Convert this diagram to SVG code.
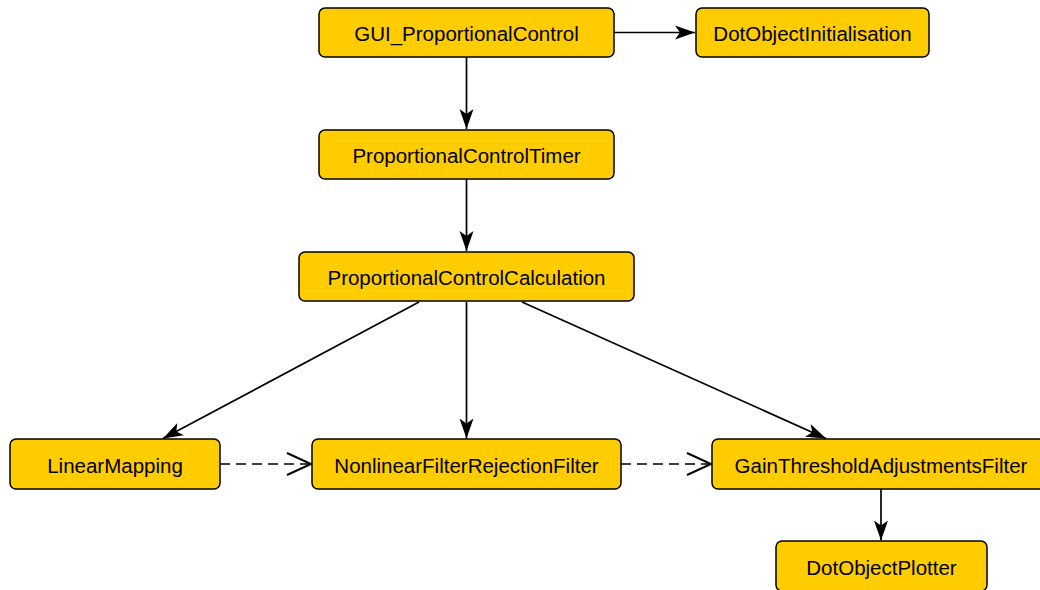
<svg xmlns="http://www.w3.org/2000/svg" width="1040" height="590" viewBox="0 0 1040 590">
<style>
.n rect{fill:#FFCC00;stroke:#000;stroke-width:1.5}
.n text{font-family:"Liberation Sans",Arial,sans-serif;font-size:20.5px;fill:#000;text-anchor:middle;dominant-baseline:central}
.e{stroke:#000;stroke-width:1.7;fill:none}
.d{stroke-dasharray:10 6}
</style>
<defs>
<marker id="a" markerWidth="22" markerHeight="16" refX="20" refY="8" orient="auto" markerUnits="userSpaceOnUse">
<path d="M0,1 L20,8 L0,15 L5,8 Z" fill="#000"/>
</marker>
<marker id="o" markerWidth="28" markerHeight="24" refX="25" refY="12" orient="auto" markerUnits="userSpaceOnUse">
<path d="M1,1 L25,12 L1,23" fill="none" stroke="#000" stroke-width="2"/>
</marker>
</defs>
<rect width="1040" height="590" fill="#fff"/>
<g id="connectors">
<path class="e" d="M614,32.5 H695" marker-end="url(#a)"/>
<path class="e" d="M466.5,57 V129" marker-end="url(#a)"/>
<path class="e" d="M466.5,179 V251" marker-end="url(#a)"/>
<path class="e" d="M419,302 L163,438.5" marker-end="url(#a)"/>
<path class="e" d="M466.5,302 V438.5" marker-end="url(#a)"/>
<path class="e" d="M522,302 L826,438.5" marker-end="url(#a)"/>
<path class="e" d="M881,489 V540.5" marker-end="url(#a)"/>
<path class="e d" d="M220,464 H311" marker-end="url(#o)"/>
<path class="e d" d="M621,464 H711" marker-end="url(#o)"/>
</g>
<g id="GUI_ProportionalControl" class="n"><rect x="319" y="8" width="295" height="49" rx="6"/><text x="466.5" y="33.5">GUI_ProportionalControl</text></g>
<g id="DotObjectInitialisation" class="n"><rect x="696" y="8" width="233" height="49" rx="6"/><text x="812.5" y="33.5">DotObjectInitialisation</text></g>
<g id="ProportionalControlTimer" class="n"><rect x="319" y="130" width="295" height="49" rx="6"/><text x="466.5" y="155.5">ProportionalControlTimer</text></g>
<g id="ProportionalControlCalculation" class="n"><rect x="299" y="252" width="335" height="49" rx="6"/><text x="466.5" y="277.5">ProportionalControlCalculation</text></g>
<g id="LinearMapping" class="n"><rect x="10" y="439" width="210" height="50" rx="6"/><text x="115" y="465.5">LinearMapping</text></g>
<g id="NonlinearFilterRejectionFilter" class="n"><rect x="312" y="439" width="309" height="50" rx="6"/><text x="466.5" y="465.5">NonlinearFilterRejectionFilter</text></g>
<g id="GainThresholdAdjustmentsFilter" class="n"><rect x="712" y="439" width="338" height="50" rx="6"/><text x="881" y="465.5">GainThresholdAdjustmentsFilter</text></g>
<g id="DotObjectPlotter" class="n"><rect x="776" y="541" width="211" height="50" rx="6"/><text x="881.5" y="567.5">DotObjectPlotter</text></g>
</svg>
